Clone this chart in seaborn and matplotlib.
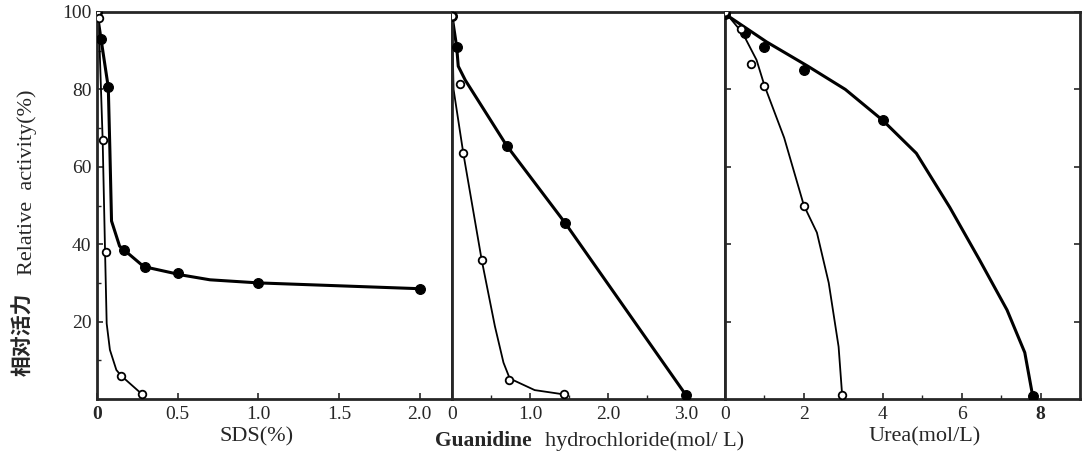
import matplotlib
matplotlib.use("Agg")
import matplotlib.pyplot as plt
import seaborn as sns

# ---- data ----
# SDS panel (%)
sds_fill_x = [0, 0.025, 0.07, 0.17, 0.3, 0.5, 1.0, 2.0]
sds_fill_y = [100, 93, 80.5, 38.5, 34, 32.5, 30, 28.5]
sds_open_x = [0, 0.01, 0.035, 0.055, 0.15, 0.28]
sds_open_y = [100, 98.5, 67, 38, 6, 1.2]
sds_fill_curve_x = [0, 0.025, 0.07, 0.08, 0.09, 0.14, 0.29, 0.53, 0.7, 1.0, 2.0]
sds_fill_curve_y = [100, 93, 80.5, 64, 46, 39.5, 34.2, 32, 30.8, 30, 28.5]
sds_open_curve_x = [0, 0.01, 0.035, 0.05, 0.06, 0.08, 0.12, 0.15, 0.28]
sds_open_curve_y = [100, 98.5, 67, 38, 19.5, 12.7, 7.5, 6, 1.2]

# Guanidine hydrochloride panel (mol/L)
gdn_fill_x = [0, 0.07, 0.7, 1.45, 3.0]
gdn_fill_y = [99, 91, 65.5, 45.5, 1]
gdn_open_x = [0, 0.1, 0.145, 0.39, 0.73, 1.43]
gdn_open_y = [99, 81.5, 63.5, 36, 5, 1.2]
gdn_fill_curve_x = [0, 0.06, 0.08, 0.17, 0.7, 1.45, 3.0]
gdn_fill_curve_y = [99, 91, 86, 82.4, 65.5, 45.5, 1]
gdn_open_curve_x = [0, 0.02, 0.145, 0.38, 0.55, 0.66, 0.74, 1.06, 1.43]
gdn_open_curve_y = [99, 80, 63.5, 36, 18.8, 9.4, 5.3, 2.3, 1.2]

# Urea panel (mol/L)
urea_fill_x = [0, 0.5, 1.0, 2.0, 4.0, 7.8]
urea_fill_y = [99.5, 94.5, 91, 85, 72, 0.8]
urea_open_x = [0, 0.4, 0.65, 1.0, 2.0, 2.97]
urea_open_y = [100, 95.5, 86.5, 81, 50, 1]
urea_fill_curve_x = [0, 1.05, 2.1, 3.05, 4.0, 4.85, 5.7, 6.45, 7.15, 7.6, 7.8]
urea_fill_curve_y = [99.5, 92.3, 86, 80, 72, 63.5, 49.5, 36, 23, 12, 0.8]
urea_open_curve_x = [0, 0.45, 0.8, 1.0, 1.5, 2.0, 2.33, 2.63, 2.88, 2.97]
urea_open_curve_y = [100, 94.5, 87.6, 81, 67.5, 50, 43, 30, 13.5, 1]

y_ticks = [20, 40, 60, 80, 100]
y_minor = [10, 30, 50, 70, 90]
sds_ticks = [0, 0.5, 1.0, 1.5, 2.0]
sds_tick_labels = ["0", "0.5", "1.0", "1.5", "2.0"]
gdn_ticks = [0, 1.0, 2.0, 3.0]
gdn_tick_labels = ["0", "1.0", "2.0", "3.0"]
urea_ticks = [0, 2, 4, 6, 8]
urea_tick_labels = ["0", "2", "4", "6", "8"]

sns.set_style("ticks")
SERIF = ['Liberation Serif', 'DejaVu Serif', 'Noto Sans CJK SC']
plt.rcParams['font.family'] = SERIF
plt.rcParams['axes.linewidth'] = 2.0
plt.rcParams['xtick.direction'] = 'in'
plt.rcParams['ytick.direction'] = 'in'

fig = plt.figure(figsize=(10.91, 4.55), dpi=100)
L, R, B, T = 97/1091, 1080/1091, 1-399/455, 1-12/455
gs = fig.add_gridspec(1, 3, left=L, right=R, bottom=B, top=T,
                      width_ratios=[355, 273, 355], wspace=0)
axes = [fig.add_subplot(gs[0, i]) for i in range(3)]

panels = [
    (sds_fill_x, sds_fill_y, sds_open_x, sds_open_y,
     sds_fill_curve_x, sds_fill_curve_y, sds_open_curve_x, sds_open_curve_y,
     (0, 2.2), sds_ticks, sds_tick_labels),
    (gdn_fill_x, gdn_fill_y, gdn_open_x, gdn_open_y,
     gdn_fill_curve_x, gdn_fill_curve_y, gdn_open_curve_x, gdn_open_curve_y,
     (0, 3.5), gdn_ticks, gdn_tick_labels),
    (urea_fill_x, urea_fill_y, urea_open_x, urea_open_y,
     urea_fill_curve_x, urea_fill_curve_y, urea_open_curve_x, urea_open_curve_y,
     (0, 9.0), urea_ticks, urea_tick_labels),
]

for ax, (fx, fy, ox, oy, fcx, fcy, ocx, ocy, xlim, xt, xtl) in zip(axes, panels):
    sns.lineplot(x=fcx, y=fcy, ax=ax, color='black', lw=2.2, sort=False,
                 estimator=None)
    sns.lineplot(x=ocx, y=ocy, ax=ax, color='black', lw=1.3, sort=False,
                 estimator=None)
    sns.scatterplot(x=fx, y=fy, ax=ax, color='black', s=50, edgecolor='black',
                    linewidth=0.8, zorder=5)
    sns.scatterplot(x=ox, y=oy, ax=ax, facecolor='white', s=30,
                    edgecolor='black', linewidth=1.3, zorder=6)
    ax.set_xlim(*xlim)
    ax.set_ylim(0, 100)
    ax.set_xticks(xt)
    ax.set_xticklabels(xtl)
    ax.tick_params(axis='x', labelsize=14, length=4, width=1.2, pad=5)
    ax.tick_params(axis='y', length=4, width=1.2)
    for sp in ax.spines.values():
        sp.set_visible(True)
        sp.set_linewidth(2.0)
    ax.set_xlabel("")
    ax.set_ylabel("")

axes[0].set_yticks(y_ticks)
axes[0].set_yticklabels([str(v) for v in y_ticks])
axes[0].set_yticks(y_minor, minor=True)
axes[0].tick_params(axis='y', labelsize=14, pad=4)
axes[0].tick_params(axis='y', which='minor', direction='in', length=3, width=1.0)
axes[0].get_xticklabels()[0].set_fontweight('bold')
for ax in axes[1:]:
    ax.set_yticks(y_ticks)
    ax.tick_params(axis='y', labelleft=False, length=0)
axes[2].tick_params(axis='y', right=True, length=4)
axes[2].get_xticklabels()[-1].set_fontweight('bold')
axes[1].set_xticks([0.5, 1.5, 2.5], minor=True)
axes[2].set_xticks([1, 3, 5, 7], minor=True)
for ax in axes[1:]:
    ax.tick_params(axis='x', which='minor', direction='in', length=3, width=1.0)

fig.text(257/1091, 1-437/455, "SDS(%)", ha='center', va='center', fontsize=16)
fig.text(435/1091, 1-441/455, "Guanidine", ha='left', va='center',
         fontsize=15.5, fontweight='bold')
fig.text(545/1091, 1-441/455, "hydrochloride(mol/ L)", ha='left',
         va='center', fontsize=16)
fig.text(925/1091, 1-437/455, "Urea(mol/L)", ha='center', va='center',
         fontsize=16)
fig.text(23/1091, 1-334/455, "相对活力", rotation=90, ha='center', va='center',
         fontsize=15, family=['Noto Sans CJK SC', 'DejaVu Sans'],
         fontweight='bold')
fig.text(27/1091, 1-182/455, "Relative  activity(%)", rotation=90,
         ha='center', va='center', fontsize=16)

fig.savefig("out.png", dpi=100)
